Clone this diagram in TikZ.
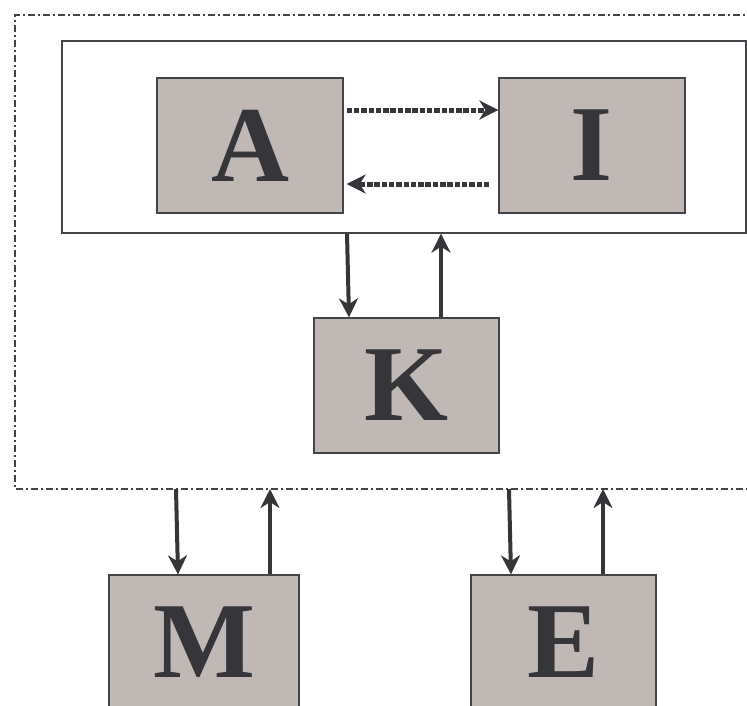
\documentclass[tikz,border=0pt]{standalone}
\usepackage{fontspec}
\setmainfont{Liberation Serif}
\usetikzlibrary{arrows.meta}
\definecolor{boxfill}{HTML}{C0B8B5}
\definecolor{ink}{HTML}{35353A}
\definecolor{edge}{HTML}{444448}
\tikzset{
  box/.style={draw=edge, line width=1.3pt, fill=boxfill, minimum width=#1, minimum height=135pt, inner sep=0pt,
    text=ink, font=\fontsize{108}{108}\selectfont\bfseries},
  box/.default=186pt,
  arr/.style={draw=ink, line width=4pt, -{Stealth[length=19pt,width=19pt,inset=6pt]}},
  dotarr/.style={draw=ink, line width=5pt, dash pattern=on 5.5pt off 1.8pt, -{Stealth[length=19pt,width=19pt,inset=6pt]}},
}
\begin{document}
\begin{tikzpicture}[x=1pt,y=-1pt]
\useasboundingbox (0,0) rectangle (747,705);
\clip (0,0) rectangle (747,705);
% outer dash-dot region
\draw[edge, line width=1.5pt, dash pattern=on 7pt off 3pt on 2pt off 3pt] (770,15) -- (15,15) -- (15,489) -- (770,489);
\coordinate (outerbottom) at (0,489);
% inner frame
\node[draw=edge, line width=1.3pt, fill=white, minimum width=684pt, minimum height=192pt, inner sep=0pt] (frame) at (404,137) {};
% boxes
\node[box] (A) at (250,145.5) {A};
\node[box] (I) at (592,145.5) {I};
\node[box=185pt] (K) at (406.5,385.5) {K};
\node[box=190pt] (M) at (204,642.5) {M};
\node[box=185pt] (E) at (563.5,642.5) {E};
% dotted arrows
\draw[dotarr] ([yshift=35.5pt]A.east) ++(3,0) -- ([yshift=35.5pt]I.west);
\draw[dotarr] ([yshift=-38.5pt]I.west) ++(-9,0) -- ([yshift=-38.5pt,xshift=3pt]A.east);
% frame <-> K
\draw[arr] ([xshift=-57pt]frame.south) -- ([xshift=-57.5pt]K.north);
\draw[arr] ([xshift=34.5pt]K.north) -- ([xshift=37pt]frame.south);
% outer <-> M, E
\draw[arr] (outerbottom -| 176,0) -- ([xshift=-26pt]M.north);
\draw[arr] ([xshift=66pt]M.north) -- (outerbottom -| 270,0);
\draw[arr] (outerbottom -| 509,0) -- ([xshift=-52.5pt]E.north);
\draw[arr] ([xshift=39.5pt]E.north) -- (outerbottom -| 603,0);
\end{tikzpicture}
\end{document}
